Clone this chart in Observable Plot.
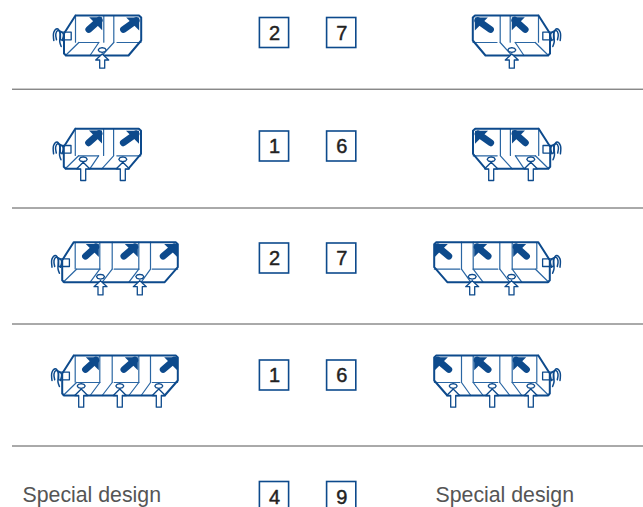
<!DOCTYPE html>
<html><head><meta charset="utf-8">
<style>html,body{margin:0;padding:0;background:#fff}svg{display:block}</style>
<script src="https://cdn.jsdelivr.net/npm/d3@7"></script>
<script src="https://cdn.jsdelivr.net/npm/@observablehq/plot@0.6"></script>
</head><body><div id="chart"></div>
<script>
// Table content
const leftCodes = ["2","1","2","1","4"];
const rightCodes = ["7","6","7","6","9"];
const specialLabel = "Special design";
const separators = [88.7,207.5,323.5,445.5];
const codeCentres = [32.5,146,258,375,496.5];
const codeColumns = [274,341];

// Unit placement
const unitTop = [15,128.3,241.7,355];
const unitLeft = [63.5,63.3,61.7,61.7];
const mirrorAxis = [613,613,611,611];
const unitCells = [2,2,3,3];
const inletX = [[38.2],[19.4,59],[38.3,77.6],[19,57.6,96.6]];
const inletInBay = [true,false,true,false];

// Line drawings of a unit, in unit-local coordinates
const outline = {
  2:[[11.5,0],[75,0],[77.2,2],[77.2,25],[64.5,40],[2,40],[0,38],[0,18],[11.5,0]],
  3:[[11.5,0],[113.5,0],[115.6,2],[115.6,25],[102.5,40],[2,40],[0,38],[0,18],[11.5,0]]
};
const innerLines = {
  2:[[[11.5,1],[11.5,26.7]],[[39.8,0],[39.8,26.7]],[[49.8,0],[49.8,26.7]],
     [[14.8,27],[34.8,27]],[[53,27],[77,27]],
     [[14.8,27],[1.5,40]],[[34.8,27],[26,40]],[[49.8,27],[38,40]]],
  3:[[[13,1],[13,26.7]],[[37.6,0],[37.6,26.7]],[[50,0],[50,26.7]],[[76.6,0],[76.6,26.7]],[[88.3,0],[88.3,26.7]],
     [[14.3,27],[37.6,27]],[[52,27],[76.6,27]],[[90,27],[115.4,27]],
     [[14.3,27],[1,40]],[[37.6,27],[28,40]],[[50,27],[40,40]],[[76.6,27],[66.7,40]],[[88.3,27],[79,40]]]
};
const flowArrows = {
  2:[[24.8,14,38.2,1.7],[59.5,14,75.2,2]],
  3:[[23.3,14,36.6,1.7],[61.7,14,75.6,1.7],[101,14,115,1.7]]
};
const socket = [[7.2,16.7],[-3.5,16.7],[-3.5,24.3],[7.2,24.3]];
const hoseA = [[-10.2,25],[-10.2,16.7],[-6.8,13.3],[-4.2,16.7],[-4.2,26.7],[-2.8,31]];
const hoseB = [[-7.5,24.3],[-8.2,18.3],[-6.2,15],[-0.8,18.3],[-1.8,25]];
const ring = [[-4,0],[-2.8,-1.7],[0,-2.4],[2.8,-1.7],[4,0],[2.8,1.7],[0,2.4],[-2.8,1.7],[-4,0]];
const inletBay = {tip:38.5,base:44.5,end:52.7,ring:34.5};
const inletFlat = {tip:33.5,base:40,end:51.7,ring:30.5};

// Expand to tables for the marks
const heavy=[], light=[], hoses=[], heads=[], shafts=[], inlets=[], rings=[], sockets=[];
let id=0;
function put(table, pts, xf, yf){ id++; for(const [x,y] of pts) table.push({x:xf(x),y:yf(y),z:id}); }
unitTop.forEach((top,r)=>{
  const n=unitCells[r];
  for(const side of [0,1]){
    const fx = x=>{const a=unitLeft[r]+x; return side? mirrorAxis[r]-a : a;};
    const fy = y=>top+y;
    put(sockets,[...socket,socket[0]],fx,fy);
    put(heavy,outline[n],fx,fy);
    for(const l of innerLines[n]) put(light,l,fx,fy);
    put(hoses,hoseA,fx,fy); put(hoses,hoseB,fx,fy);
    for(const [tx,ty,hx,hy] of flowArrows[n]){
      put(shafts,[[tx,ty],[hx-3,hy+3]],fx,fy);
      put(heads,[[hx,hy],[hx-13,hy],[hx,hy+13],[hx,hy]],fx,fy);
    }
    const k=inletInBay[r]?inletBay:inletFlat;
    for(const ix of inletX[r]){
      put(inlets,[[ix,k.tip],[ix+6.5,k.base],[ix+2.5,k.base],[ix+2.5,k.end],[ix-2.5,k.end],[ix-2.5,k.base],[ix-6.5,k.base],[ix,k.tip]],fx,fy);
      put(rings,ring.map(([a,b])=>[ix+a,k.ring+b]),fx,fy);
    }
  }
});

const codes=[];
leftCodes.forEach((c,i)=>{codes.push({col:codeColumns[0],row:codeCentres[i],c});codes.push({col:codeColumns[1]+0.2,row:codeCentres[i],c:rightCodes[i]});});

const blue="#0d4a8c", blue2="#2a66a3";
const xy={x:"x",y:"y",z:"z"};
const plot=Plot.plot({
  width:643,height:507,margin:0,
  x:{type:"linear",domain:[0,643],range:[0,643],axis:null},
  y:{type:"linear",domain:[0,507],range:[0,507],axis:null},
  marks:[
    Plot.ruleY(separators,{x1:12,x2:643,stroke:"#555",strokeWidth:1}),
    Plot.rect(codes,{x1:d=>d.col-14.6,x2:d=>d.col+14.6,y1:d=>d.row-15,y2:d=>d.row+15,fill:"#fff",stroke:blue,strokeWidth:1.6}),
    Plot.text(codes,{x:"col",y:d=>d.row+0.5,text:"c",fontSize:20,fontFamily:"Liberation Sans",fill:"#222",stroke:"#222",strokeWidth:0.45}),
    Plot.text([specialLabel],{x:22,y:495,text:d=>d,textAnchor:"start",fontSize:21.3,fontFamily:"Liberation Sans",fill:"#555"}),
    Plot.text([specialLabel],{x:435,y:495,text:d=>d,textAnchor:"start",fontSize:21.3,fontFamily:"Liberation Sans",fill:"#555"}),
    Plot.line(light,{...xy,stroke:blue2,strokeWidth:1.2}),
    Plot.line(sockets,{...xy,stroke:blue,strokeWidth:1.3,fill:"#fff"}),
    Plot.line(heavy,{...xy,stroke:blue,strokeWidth:2}),
    Plot.line(hoses,{...xy,stroke:blue,strokeWidth:1.5,curve:"catmull-rom"}),
    Plot.line(shafts,{...xy,stroke:blue,strokeWidth:6.8,strokeLinecap:"round"}),
    Plot.line(heads,{...xy,fill:blue,stroke:"none"}),
    Plot.line(inlets,{...xy,fill:"#fff",stroke:blue,strokeWidth:1.3}),
    Plot.line(rings,{...xy,fill:"#fff",stroke:blue,strokeWidth:1.3})
  ]
});
document.getElementById("chart").append(plot);
</script></body></html>
